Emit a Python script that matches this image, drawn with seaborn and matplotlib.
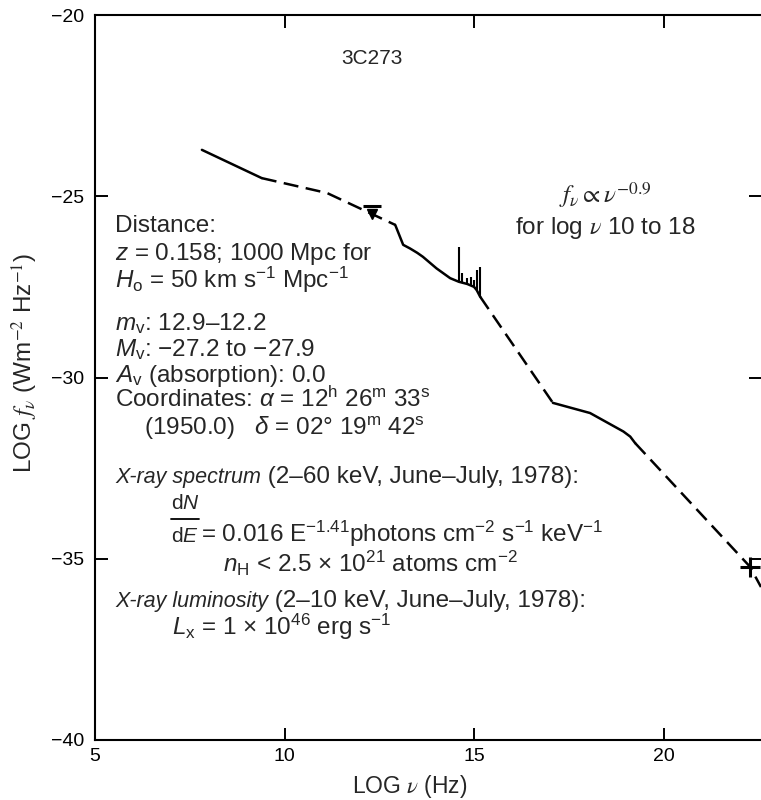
import matplotlib
matplotlib.use("Agg")
import matplotlib.pyplot as plt
import matplotlib.transforms as mtransforms
from matplotlib import font_manager
from matplotlib.lines import Line2D
import seaborn as sns
import numpy as np
import pandas as pd

# ---- data ----
radio_x = [7.82, 9.40]
radio_y = [-23.72, -24.50]
mm_gap_x = [9.40, 11.12, 12.92]
mm_gap_y = [-24.50, -24.91, -25.79]
ir_opt_x = [12.92, 13.13, 13.31, 13.50, 13.65, 14.01, 14.37, 14.60, 14.82, 15.00, 15.07, 15.16]
ir_opt_y = [-25.79, -26.34, -26.44, -26.56, -26.67, -26.99, -27.26, -27.36, -27.42, -27.50, -27.59, -27.77]
uv_gap_x = [15.16, 17.08]
uv_gap_y = [-27.77, -30.70]
xray_x = [17.08, 18.06, 18.94, 19.12, 19.25]
xray_y = [-30.70, -30.98, -31.49, -31.63, -31.81]
gamma_gap_x = [19.25, 22.28, 22.57]
gamma_gap_y = [-31.81, -35.22, -35.78]

# emission lines on the optical continuum
line_x = [14.60, 14.67, 14.82, 14.91, 15.00, 15.07, 15.16]
line_top = [-26.41, -27.13, -27.26, -27.22, -27.31, -27.03, -26.94]

# upper limit and gamma-ray point
limit_x = [12.30]
limit_y = [-25.27]
gamma_pt_x = [22.28]
gamma_pt_y = [-35.24]

x_ticks = [5, 10, 15, 20]
y_ticks = [-40, -35, -30, -25, -20]

sns.set_style("ticks")
plt.rcParams.update({
    "font.family": ["Liberation Sans", "DejaVu Sans"],
    "mathtext.fontset": "custom",
    "mathtext.rm": "Liberation Sans",
    "mathtext.it": "Liberation Sans:italic",
    "mathtext.bf": "Liberation Sans:bold",
})

# condensed italic for the "X-ray ..." headings if the narrow face is there
installed = {f.name for f in font_manager.fontManager.ttflist}
if "Liberation Sans Narrow" in installed:
    ital = dict(family="Liberation Sans Narrow", style="italic", size=16.5)
else:
    ital = dict(family="Liberation Sans", style="italic", size=15.5)

W, H = 761, 800
fig = plt.figure(figsize=(W / 100, H / 100), dpi=100)
ax = fig.add_axes([95 / W, 60 / H, 666 / W, 725 / H])

segments = [
    (radio_x, radio_y, "-"),
    (mm_gap_x, mm_gap_y, (0, (6, 3))),
    (ir_opt_x, ir_opt_y, "-"),
    (uv_gap_x, uv_gap_y, (0, (6, 3))),
    (xray_x, xray_y, "-"),
    (gamma_gap_x, gamma_gap_y, (0, (6, 3))),
]
for sx, sy, ls in segments:
    df = pd.DataFrame({"x": sx, "y": sy})
    sns.lineplot(data=df, x="x", y="y", sort=False, estimator=None, ax=ax,
                 color="black", linewidth=1.8, linestyle=ls)

line_base = np.interp(line_x, ir_opt_x, ir_opt_y)
ax.vlines(line_x, line_base, line_top, color="black", linewidth=1.5)

ax.plot(limit_x, limit_y, marker="_", markersize=13, mew=2.2, color="black", ls="none")
down = mtransforms.offset_copy(ax.transData, fig=fig, x=0, y=-6, units="points")
ax.plot(limit_x, limit_y, marker="v", markersize=7, color="black", ls="none", transform=down)
ax.plot(gamma_pt_x, gamma_pt_y, marker="+", markersize=14, mew=2.2, color="black", ls="none")

ax.set_xlim(5, 22.57)
ax.set_ylim(-40, -20)
ax.set_xticks(x_ticks)
ax.set_yticks(y_ticks)
ax.tick_params(direction="in", length=9, width=1.4, top=True, right=True,
               labelsize=14, pad=6, color="black", labelcolor="black")
ax.tick_params(axis="y", pad=8)
for side in ["left", "top", "bottom"]:
    ax.spines[side].set_linewidth(1.5)
    ax.spines[side].set_color("black")
ax.spines["right"].set_visible(False)

ax.set_xlabel(r"LOG $\nu$ (Hz)", fontsize=16.5, math_fontfamily="stix")
ax.set_ylabel(r"LOG $f_\nu$ (Wm$^{-2}$ Hz$^{-1}$)", fontsize=17.5, math_fontfamily="stix")
ax.xaxis.set_label_coords(0.473, -0.046)
ax.yaxis.set_label_coords(-0.083, 0.52)

FS = 17.5


def put(px, py, s, ha="left", size=FS, **kw):
    return fig.text(px / W, 1 - py / H, s, ha=ha, va="baseline", fontsize=size, **kw)


def put_heading(px, py, italic_part, rest):
    # italic words followed by upright text on the same baseline
    t = fig.text(px / W, 1 - py / H, italic_part, ha="left", va="baseline",
                 family=ital["family"], style=ital["style"], fontsize=ital["size"])
    x1 = t.get_window_extent(renderer=fig.canvas.get_renderer()).x1
    put(x1, py, rest)


put(372, 64, "3C273", ha="center", size=15)
put(605, 203, r"$f_\nu \propto \nu^{-0.9}$", ha="center", size=18, math_fontfamily="stix")
put(605, 234, r"for log $\nu$ 10 to 18", ha="center", math_fontfamily="stix")

put(115, 232, "Distance:")
put(115, 260, r"$z$ = 0.158; 1000 Mpc for")
put(115, 288, r"$H_{\rm o}$ = 50 km s$^{-1}$ Mpc$^{-1}$")
put(115, 330, r"$m_{\rm v}$: 12.9–12.2")
put(115, 356, r"$M_{\rm v}$: −27.2 to −27.9")
put(115, 382, r"$A_{\rm v}$ (absorption): 0.0")
put(115, 407, r"Coordinates: $\alpha$ = 12$^{\rm h}$ 26$^{\rm m}$ 33$^{\rm s}$")
put(144, 435, r"(1950.0)   $\delta$ = 02° 19$^{\rm m}$ 42$^{\rm s}$")
put_heading(115, 483, "X-ray spectrum", " (2–60 keV, June–July, 1978):")

# dN/dE written as a stacked fraction sitting on the equation baseline
put(185, 509, r"d$N$", ha="center", size=15)
put(185, 542, r"d$E$", ha="center", size=15)
fig.add_artist(Line2D([171 / W, 199 / W], [1 - 519 / H, 1 - 519 / H], color="black", lw=1.3))
put(201, 542, r"= 0.016 E$^{-1.41}$photons cm$^{-2}$ s$^{-1}$ keV$^{-1}$")

put(223, 572, r"$n_{\rm H}$ < 2.5 × 10$^{21}$ atoms cm$^{-2}$")
put_heading(115, 607, "X-ray luminosity", " (2–10 keV, June–July, 1978):")
put(172, 635, r"$L_{\rm x}$ = 1 × 10$^{46}$ erg s$^{-1}$")

fig.savefig("out.png", dpi=100)
